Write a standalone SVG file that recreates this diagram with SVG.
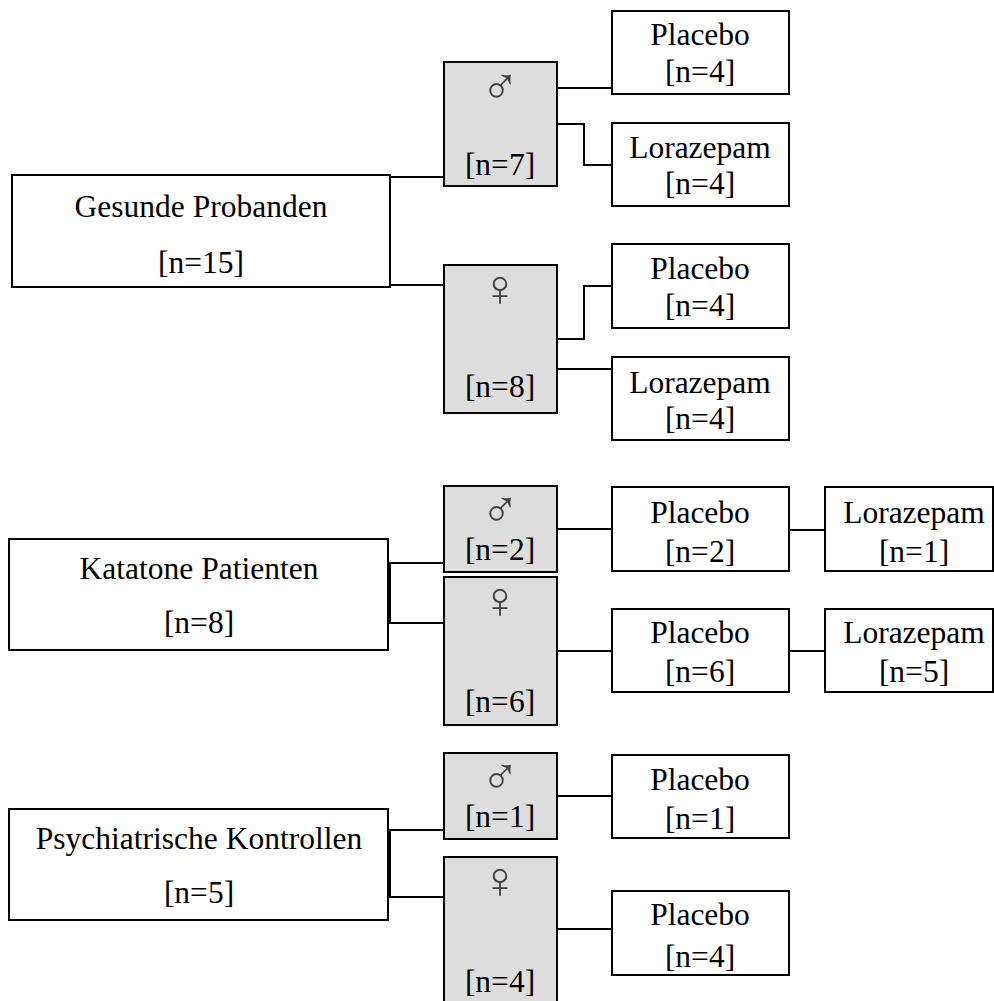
<svg xmlns="http://www.w3.org/2000/svg" width="994" height="1001" viewBox="0 0 994 1001">
<style>
.box{fill:#ffffff;stroke:#000;stroke-width:2}
.sex{fill:#dddddd;stroke:#000;stroke-width:2}
.t{font-family:"Liberation Serif","Times New Roman",serif;font-size:31.5px;fill:#000;text-anchor:middle}
.sym{font-family:"Liberation Serif","Times New Roman",serif;font-size:52px;fill:#444;text-anchor:middle}
.c{fill:none;stroke:#000;stroke-width:2}
</style>
<rect width="994" height="1001" fill="#fff"/>
<g id="connectors">
<path class="c" d="M390,177H444"/>
<path class="c" d="M390,285H444"/>
<path class="c" d="M557,88H612"/>
<path class="c" d="M557,124H584V165H612"/>
<path class="c" d="M557,339H584V286H612"/>
<path class="c" d="M557,369H612"/>
<path class="c" d="M444,563H390V623H444"/>
<path class="c" d="M557,529H612"/>
<path class="c" d="M789,530H825"/>
<path class="c" d="M557,651H612"/>
<path class="c" d="M789,651H825"/>
<path class="c" d="M444,830H390V897H444"/>
<path class="c" d="M557,796H612"/>
<path class="c" d="M557,929H612"/>
</g>
<g id="gesunde">
<rect class="box" x="12" y="175" width="378" height="112"/>
<text class="t" x="201" y="217">Gesunde Probanden</text>
<text class="t" x="201" y="273">[n=15]</text>
</g>
<g id="g-male">
<rect class="sex" x="444" y="62" width="113" height="124"/>
<text class="sym" x="500" y="104">♂</text>
<text class="t" x="500" y="175">[n=7]</text>
</g>
<g id="g-female">
<rect class="sex" x="444" y="265" width="113" height="148"/>
<text class="sym" x="500" y="306">♀</text>
<text class="t" x="500" y="397">[n=8]</text>
</g>
<g id="g-m-placebo">
<rect class="box" x="612" y="11" width="177" height="83"/>
<text class="t" x="700" y="45">Placebo</text>
<text class="t" x="700" y="82">[n=4]</text>
</g>
<g id="g-m-lorazepam">
<rect class="box" x="612" y="123" width="177" height="83"/>
<text class="t" x="700" y="158">Lorazepam</text>
<text class="t" x="700" y="194">[n=4]</text>
</g>
<g id="g-f-placebo">
<rect class="box" x="612" y="244" width="177" height="84"/>
<text class="t" x="700" y="279">Placebo</text>
<text class="t" x="700" y="316">[n=4]</text>
</g>
<g id="g-f-lorazepam">
<rect class="box" x="612" y="357" width="177" height="83"/>
<text class="t" x="700" y="393">Lorazepam</text>
<text class="t" x="700" y="429">[n=4]</text>
</g>
<g id="katatone">
<rect class="box" x="9" y="539" width="379" height="111"/>
<text class="t" x="199" y="579">Katatone Patienten</text>
<text class="t" x="199" y="633">[n=8]</text>
</g>
<g id="k-male">
<rect class="sex" x="444" y="486" width="113" height="86"/>
<text class="sym" x="500" y="527">♂</text>
<text class="t" x="500" y="560">[n=2]</text>
</g>
<g id="k-female">
<rect class="sex" x="444" y="577" width="113" height="148"/>
<text class="sym" x="500" y="618">♀</text>
<text class="t" x="500" y="712">[n=6]</text>
</g>
<g id="k-m-placebo">
<rect class="box" x="612" y="487" width="177" height="84"/>
<text class="t" x="700" y="523">Placebo</text>
<text class="t" x="700" y="562">[n=2]</text>
</g>
<g id="k-m-lorazepam">
<rect class="box" x="825" y="487" width="168" height="84"/>
<text class="t" x="914" y="523">Lorazepam</text>
<text class="t" x="914" y="562">[n=1]</text>
</g>
<g id="k-f-placebo">
<rect class="box" x="612" y="609" width="177" height="83"/>
<text class="t" x="700" y="643">Placebo</text>
<text class="t" x="700" y="682">[n=6]</text>
</g>
<g id="k-f-lorazepam">
<rect class="box" x="825" y="609" width="168" height="83"/>
<text class="t" x="914" y="643">Lorazepam</text>
<text class="t" x="914" y="682">[n=5]</text>
</g>
<g id="psych">
<rect class="box" x="9" y="809" width="379" height="111"/>
<text class="t" x="199" y="849">Psychiatrische Kontrollen</text>
<text class="t" x="199" y="903">[n=5]</text>
</g>
<g id="p-male">
<rect class="sex" x="444" y="753" width="113" height="86"/>
<text class="sym" x="500" y="794">♂</text>
<text class="t" x="500" y="827">[n=1]</text>
</g>
<g id="p-female">
<rect class="sex" x="444" y="857" width="113" height="160"/>
<text class="sym" x="500" y="898">♀</text>
<text class="t" x="500" y="992">[n=4]</text>
</g>
<g id="p-m-placebo">
<rect class="box" x="612" y="755" width="177" height="83"/>
<text class="t" x="700" y="790">Placebo</text>
<text class="t" x="700" y="829">[n=1]</text>
</g>
<g id="p-f-placebo">
<rect class="box" x="612" y="891" width="177" height="84"/>
<text class="t" x="700" y="925">Placebo</text>
<text class="t" x="700" y="967">[n=4]</text>
</g>
</svg>
